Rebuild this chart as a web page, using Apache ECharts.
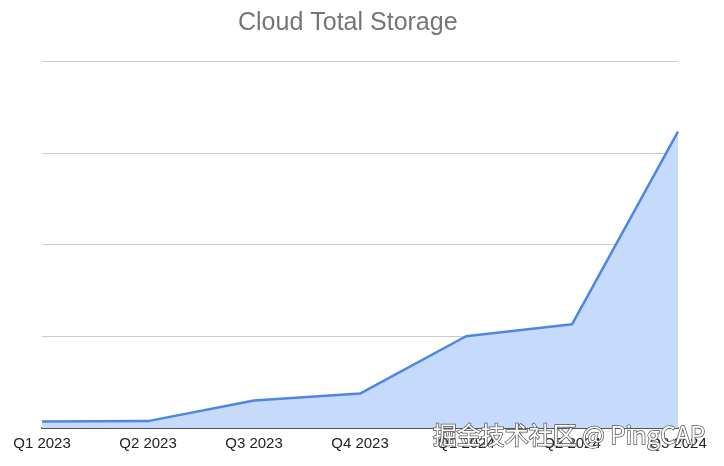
<!DOCTYPE html>
<html><head><meta charset="utf-8">
<script src="https://cdn.jsdelivr.net/npm/echarts@6/dist/echarts.min.js"></script>
<style>html,body{margin:0;padding:0;background:#fff}#c{width:724px;height:466px}</style>
</head><body><div id="c"></div>
<script>
const categories = ['Q1 2023','Q2 2023','Q3 2023','Q4 2023','Q1 2024','Q2 2024','Q3 2024'];
const storage = [0.07, 0.075, 0.30, 0.375, 1.0, 1.13, 3.23];
const chart = echarts.init(document.getElementById('c'), null, {renderer:'canvas'});
chart.setOption({
  animation:false,
  title:{text:'Cloud Total Storage', left:233, top:6,
    textStyle:{fontFamily:'Liberation Sans, Arial', fontSize:25, fontWeight:'normal', color:'#757575'}},
  grid:{left:42, right:46, top:61, bottom:38},
  xAxis:{type:'category', data:categories, boundaryGap:false,
    axisLine:{lineStyle:{color:'#555', width:2}}, axisTick:{show:false},
    axisLabel:{color:'#222', fontFamily:'Liberation Sans, Arial', fontSize:15, margin:8}},
  yAxis:{type:'value', min:0, max:4, interval:1,
    axisLabel:{show:false}, axisLine:{show:false}, axisTick:{show:false},
    splitLine:{lineStyle:{color:'#cccccc', width:1}}},
  series:[{type:'line', data:storage, symbol:'none',
    lineStyle:{color:'#4f86e6', width:2.5},
    areaStyle:{color:'#c6dafb', opacity:1}}],
  graphic:[{type:'text', right:18, top:422, z:100,
    style:{text:'掘金技术社区 @ PingCAP', fill:'#ffffff', stroke:'#555', lineWidth:1.5,
      font:'24px "Noto Sans CJK SC", sans-serif'}}]
});
</script></body></html>
